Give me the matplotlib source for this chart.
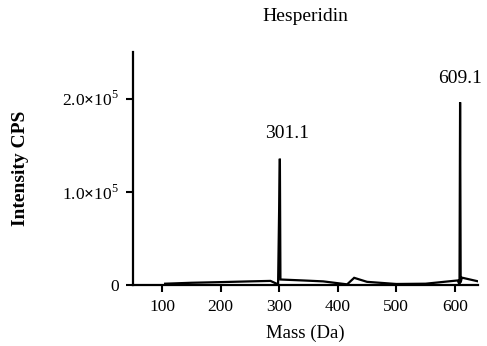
import matplotlib
matplotlib.use("Agg")
import matplotlib.pyplot as plt
from matplotlib.ticker import FixedLocator, FixedFormatter

plt.rcParams["font.family"] = ["Liberation Serif", "DejaVu Serif"]
plt.rcParams["mathtext.fontset"] = "custom"
plt.rcParams["mathtext.rm"] = "Liberation Serif"
plt.rcParams["mathtext.bf"] = "Liberation Serif:bold"

# Mass spectrum of hesperidin (m/z vs intensity, counts per second)
mass = [105, 150, 200, 250, 285, 298, 301.0, 301.1, 302, 340, 375, 416, 428,
        450, 500, 550, 605, 608, 609.0, 609.1, 610, 612, 640]
intensity = [1500, 2500, 3200, 4000, 4500, 800, 135500, 130000, 6000, 5000, 4000,
             800, 7800, 3500, 1200, 1500, 5000, 500, 196000, 180000, 3000, 8000, 4000]

peak_labels = ["301.1", "609.1"]
peak_mass = [301.1, 609.1]
peak_height = [135500, 196000]

y_ticks = [0, 100000, 200000]
y_tick_labels = ["0", r"1.0$\mathbf{\times}$10$^{5}$", r"2.0$\mathbf{\times}$10$^{5}$"]
x_ticks = [100, 200, 300, 400, 500, 600]

fig = plt.figure(figsize=(4.87, 3.46), dpi=100)
ax = fig.add_axes([0.273, 0.176, 0.709, 0.674])

ax.plot(mass, intensity, color="black", lw=1.6, solid_joinstyle="miter")
ax.plot([105, 640], [0, 0], color="black", lw=1.0)

offsets = [(12, 27000), (0, 25000)]
for lbl, m, h, (dx, dy) in zip(peak_labels, peak_mass, peak_height, offsets):
    ax.text(m + dx, h + dy, lbl, ha="center", va="center", fontsize=14)

ax.set_xlim(50, 640)
ax.set_ylim(0, 250000)
ax.xaxis.set_major_locator(FixedLocator(x_ticks))
ax.yaxis.set_major_locator(FixedLocator(y_ticks))
ax.yaxis.set_major_formatter(FixedFormatter(y_tick_labels))

for side in ("top", "right"):
    ax.spines[side].set_visible(False)
for side in ("left", "bottom"):
    ax.spines[side].set_linewidth(1.6)
ax.tick_params(axis="both", direction="out", length=5, width=1.5, labelsize=12.5, pad=5)

ax.set_xlabel("Mass (Da)", fontsize=13.5, labelpad=7)
ax.set_ylabel("Intensity CPS", fontsize=14, fontweight="bold", labelpad=24)
ax.set_title("Hesperidin", fontsize=14, pad=22)

fig.savefig("out.png", dpi=100)
